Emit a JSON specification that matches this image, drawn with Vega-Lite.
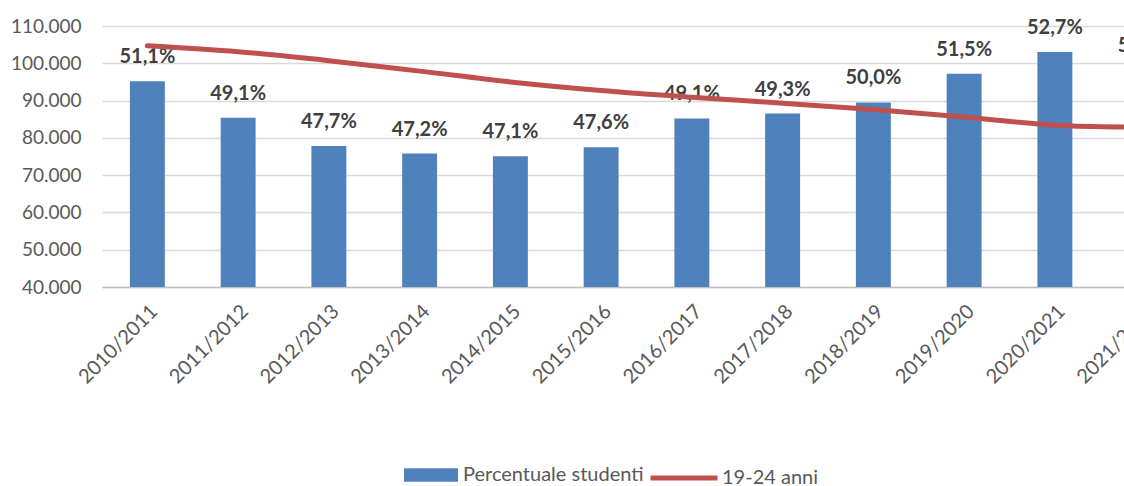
{
  "$schema": "https://vega.github.io/schema/vega-lite/v6.json",
  "width": 1022,
  "height": 261,
  "autosize": {"type": "none"},
  "padding": {"left": 102, "top": 26, "right": 0, "bottom": 199},
  "background": "#ffffff",
  "config": {
    "view": {"stroke": null},
    "font": "Lato",
    "axisY": {
      "title": null,
      "values": [40000, 50000, 60000, 70000, 80000, 90000, 100000, 110000],
      "labelExpr": "replace(format(datum.value, ','), ',', '.')",
      "labelFontSize": 19,
      "labelFont": "Lato",
      "labelColor": "#595959",
      "ticks": false,
      "domain": false,
      "labelPadding": 21,
      "labelOverlap": false,
      "gridColor": "#D9D9D9",
      "gridWidth": 1.5
    }
  },
  "data": {
    "values": [
      {"anno": "2010/2011", "studenti": 95200, "pct": "51,1%", "pop": 104700},
      {"anno": "2011/2012", "studenti": 85400, "pct": "49,1%", "pop": 103100},
      {"anno": "2012/2013", "studenti": 77800, "pct": "47,7%", "pop": 100700},
      {"anno": "2013/2014", "studenti": 75800, "pct": "47,2%", "pop": 97900},
      {"anno": "2014/2015", "studenti": 75100, "pct": "47,1%", "pop": 95000},
      {"anno": "2015/2016", "studenti": 77500, "pct": "47,6%", "pop": 92700},
      {"anno": "2016/2017", "studenti": 85200, "pct": "49,1%", "pop": 90900},
      {"anno": "2017/2018", "studenti": 86500, "pct": "49,3%", "pop": 89300},
      {"anno": "2018/2019", "studenti": 89500, "pct": "50,0%", "pop": 87600},
      {"anno": "2019/2020", "studenti": 97200, "pct": "51,5%", "pop": 85600},
      {"anno": "2020/2021", "studenti": 103000, "pct": "52,7%", "pop": 83400},
      {"anno": "2021/2022", "studenti": 98300, "pct": "52,4%", "pop": 82900}
    ]
  },
  "encoding": {
    "x": {
      "field": "anno",
      "type": "nominal",
      "sort": null,
      "scale": {"range": [0, 1089], "paddingInner": 0.615, "paddingOuter": 0.3075},
      "axis": {
        "title": null,
        "labelAngle": -45,
        "labelFontSize": 20,
        "labelFont": "Lato",
        "labelColor": "#595959",
        "labelLimit": 0,
        "ticks": false,
        "labelPadding": 14,
        "domainColor": "#BFBFBF",
        "domainWidth": 1.5,
        "grid": false
      }
    }
  },
  "layer": [
    {
      "mark": {"type": "bar"},
      "encoding": {
        "y": {
          "field": "studenti",
          "type": "quantitative",
          "scale": {"domain": [40000, 110000], "nice": false, "zero": false}
        },
        "y2": {"datum": 40000},
        "fill": {
          "datum": "Percentuale studenti",
          "scale": {"range": ["#4F81BD"]},
          "legend": {
            "title": null,
            "orient": "none",
            "legendX": 302,
            "legendY": 422,
            "symbolType": "M-1,-0.25H1V0.25H-1Z",
            "symbolSize": 2916,
            "symbolStrokeWidth": 0,
            "labelFontSize": 20,
            "labelFont": "Lato",
            "labelColor": "#595959",
            "labelLimit": 0,
            "labelOffset": 5
          }
        }
      }
    },
    {
      "mark": {"type": "text", "dy": -18, "baseline": "alphabetic", "align": "center", "fontSize": 20, "fontWeight": "bold", "font": "Lato", "fill": "#404040"},
      "encoding": {
        "y": {"field": "studenti", "type": "quantitative"},
        "text": {"field": "pct"}
      }
    },
    {
      "mark": {"type": "line", "interpolate": "catmull-rom", "strokeWidth": 5, "strokeCap": "round"},
      "encoding": {
        "y": {"field": "pop", "type": "quantitative"},
        "stroke": {
          "datum": "19-24 anni",
          "scale": {"range": ["#C0504D"]},
          "legend": {
            "title": null,
            "orient": "none",
            "legendX": 546,
            "legendY": 416,
            "symbolType": "stroke",
            "symbolSize": 4489,
            "symbolStrokeWidth": 5,
            "labelFontSize": 20,
            "labelFont": "Lato",
            "labelColor": "#595959",
            "labelLimit": 0,
            "labelOffset": 2
          }
        }
      }
    }
  ]
}
